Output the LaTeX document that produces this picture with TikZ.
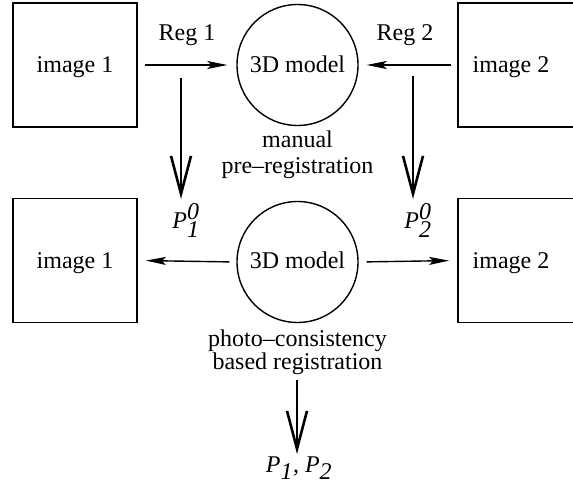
\documentclass[tikz,border=0pt]{standalone}
\usepackage{fontspec}
\setmainfont{Liberation Serif}
\usetikzlibrary{arrows.meta}
\tikzset{
  imgbox/.style={draw, line width=1.8pt, minimum width=124pt, minimum height=124pt, inner sep=0pt},
  modelcirc/.style={draw, circle, line width=1.4pt, minimum size=121pt, inner sep=0pt},
  harrow/.style={line width=1.4pt, -{Stealth[length=20pt,width=8pt,inset=4pt]}},
  varrow/.style={line width=2.6pt, -{Straight Barb[length=38pt,width=20pt,line width=2.6pt]}},
  lbl/.style={anchor=base, inner sep=0pt, align=center}
}
\newcommand{\pit}[1]{\textit{#1}}
\begin{document}
\begin{tikzpicture}[x=1pt,y=-1pt,font=\fontsize{24}{26}\selectfont]
\clip (0,0) rectangle (573,486);
% top row
\node[imgbox] (i1t) at (75,65) {};
\node[lbl] (i1tl) at (75,73) {image 1};
\node[modelcirc] (mt) at (297.5,65) {};
\node[lbl] (mtl) at (297.5,73) {3D model};
\node[imgbox] (i2t) at (520,65) {};
\node[lbl] (i2tl) at (511,73) {image 2};
\draw[harrow, shorten <=7pt, shorten >=9pt] (i1t.east) -- (mt.west);
\draw[harrow, shorten <=6pt, shorten >=8pt] (i2t.west) -- (mt.east);
\node[lbl] (reg1) at (187,41) {Reg 1};
\node[lbl] (reg2) at (405,41) {Reg 2};
\node[lbl] (man) at (297.5,148) {manual};
\node[lbl] (pre) at (297.5,174) {pre–registration};
% vertical arrows
\coordinate (v1s) at (181,78);
\coordinate (v1e) at (181,199);
\coordinate (v2s) at (413,76);
\coordinate (v2e) at (413,199);
\draw[varrow] (v1s) -- (v1e);
\draw[varrow] (v2s) -- (v2e);
\node[lbl] (p10) at (186,229) {\pit{P}$^{\pit{0}}_{\pit{1}}$};
\node[lbl] (p20) at (418,229) {\pit{P}$^{\pit{0}}_{\pit{2}}$};
% bottom row
\node[imgbox] (i1b) at (75,260.5) {};
\node[lbl] (i1bl) at (75,269) {image 1};
\node[modelcirc] (mb) at (297.5,262) {};
\node[lbl] (mbl) at (297.5,269) {3D model};
\node[imgbox] (i2b) at (520,260.5) {};
\node[lbl] (i2bl) at (511,269) {image 2};
\draw[harrow, shorten <=7pt, shorten >=8pt] (mb.west) -- (i1b.west -| i1b.east);
\draw[harrow, shorten <=8pt, shorten >=8pt] (mb.east) -- (i2b.west);
\node[lbl] (pc) at (297.5,346) {photo–consistency};
\node[lbl] (br) at (297.5,369) {based registration};
\coordinate (v3s) at (297,380);
\coordinate (v3e) at (297,454);
\draw[varrow] (v3s) -- (v3e);
\node[lbl] (pp) at (299,472) {\pit{P}$_{\pit{1}}$, \pit{P}$_{\pit{2}}$};
\end{tikzpicture}
\end{document}
